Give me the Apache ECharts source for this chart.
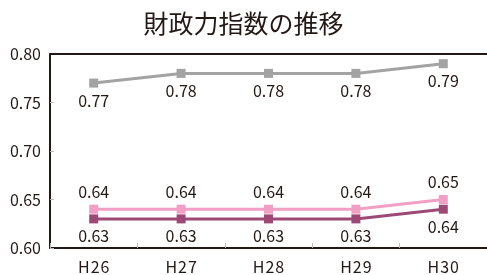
<!DOCTYPE html>
<html><head><meta charset="utf-8">
<script src="https://cdn.jsdelivr.net/npm/echarts@6/dist/echarts.min.js"></script>
<style>html,body{margin:0;padding:0;background:#fff}#c{width:487px;height:275px}</style>
</head><body><div id="c"></div>
<script>
const categories = ['H26','H27','H28','H29','H30'];
const grayValues = [0.77,0.78,0.78,0.78,0.79];
const pinkValues = [0.64,0.64,0.64,0.64,0.65];
const darkValues = [0.63,0.63,0.63,0.63,0.64];
const yTicks = [0.60,0.65,0.70,0.75,0.80];

const ink = '#231815';
const font = '"Noto Sans CJK JP", "Noto Sans", sans-serif';
function ser(data, color, pos, z) {
  return {
    type: 'line', data: data, symbol: 'rect', symbolSize: 9, z: z,
    lineStyle: {color: color, width: 3}, itemStyle: {color: color},
    label: {show: true, position: pos, distance: 5, color: ink, fontSize: 16, fontFamily: font,
      formatter: p => p.value.toFixed(2)}
  };
}
const chart = echarts.init(document.getElementById('c'));
chart.setOption({
  animation: false,
  title: {text: '財政力指数の推移', left: 'center', top: 6,
    textStyle: {fontSize: 25, fontWeight: 'normal', color: ink, fontFamily: font}},
  grid: {left: 50, right: -6, top: 54, bottom: 27},
  xAxis: {type: 'category', data: categories, boundaryGap: true,
    axisLine: {lineStyle: {color: ink, width: 2}},
    axisTick: {show: true, inside: true, length: 5, lineStyle: {color: '#bbb'}},
    axisLabel: {color: ink, fontSize: 16, fontFamily: font, margin: 11,
      formatter: v => v.split('').join('\u200a')}},
  yAxis: {type: 'value', min: 0.60, max: 0.80, interval: 0.05,
    axisLine: {show: true, lineStyle: {color: ink, width: 2}},
    axisTick: {show: true, inside: true, length: 4, lineStyle: {color: '#bbb'}},
    splitLine: {show: false},
    axisLabel: {color: ink, fontSize: 16, fontFamily: font, margin: 9,
      formatter: v => v.toFixed(2)}},
  graphic: [{type: 'line', shape: {x1: 50, y1: 54, x2: 487, y2: 54}, style: {stroke: ink, lineWidth: 2}, z: 10}],
  series: [
    ser(grayValues, '#a3a3a3', 'bottom', 3),
    ser(pinkValues, '#f29fc5', 'top', 4),
    ser(darkValues, '#9c4a75', 'bottom', 5)
  ]
});
</script></body></html>
